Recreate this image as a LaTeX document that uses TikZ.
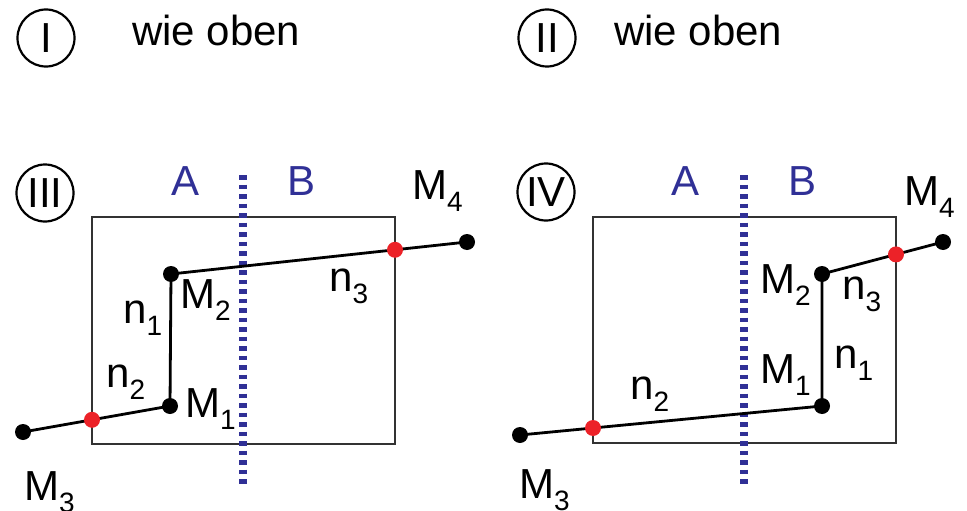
\documentclass[tikz,border=0pt]{standalone}
\usepackage{fontspec}
\setmainfont{Liberation Sans}
\definecolor{divblue}{RGB}{48,48,150}
\definecolor{dotred}{RGB}{236,34,40}
\definecolor{boxgray}{RGB}{50,50,50}
\newcommand\lblsub[2]{#1\raisebox{-12pt}{\fontsize{28pt}{28pt}\selectfont #2}}
\tikzset{
  txt/.style={inner sep=0pt, anchor=base west, font=\fontsize{42pt}{42pt}\selectfont},
  abtxt/.style={inner sep=0pt, anchor=base, text=divblue, font=\fontsize{42pt}{42pt}\selectfont},
  numcirc/.style={draw, circle, line width=2.2pt, minimum size=57pt, inner sep=0pt, font=\fontsize{42pt}{42pt}\selectfont},
  frame/.style={draw=boxgray, line width=1.4pt},
  divider/.style={draw=divblue, line width=7.5pt, dash pattern=on 4.5pt off 5pt},
  conn/.style={draw, line width=2.8pt},
  bdot/.style={circle, fill=black, minimum size=16pt, inner sep=0pt},
  rdot/.style={circle, fill=dotred, minimum size=16pt, inner sep=0pt}
}
\begin{document}
\begin{tikzpicture}[x=1pt,y=-1pt]
\useasboundingbox (0,0) rectangle (967,511);
% top row
\node[numcirc] (c1) at (46,38) {I};
\node[txt] (t1) at (132,46) {wie oben};
\node[numcirc] (c2) at (547,38) {II};
\node[txt] (t2) at (614,46) {wie oben};
% ---------- panel III ----------
\node[numcirc] (c3) at (45,193) {III};
\draw[frame] (92,217) rectangle (395,444);
\coordinate (d3a) at (243,175);
\coordinate (d3b) at (243,485);
\draw[divider] (d3a) -- (d3b);
\node[abtxt] (a3) at (186,195) {A};
\node[abtxt] (b3) at (302,195) {B};
\coordinate (m3a) at (23,432);
\coordinate (r3a) at (92,419.8);
\coordinate (m1a) at (170,406);
\coordinate (m2a) at (171,274);
\coordinate (r3b) at (395,249.8);
\coordinate (m4a) at (467,242);
\draw[conn] (m3a) -- (r3a) -- (m1a) -- (m2a) -- (r3b) -- (m4a);
\foreach \p in {m3a,m1a,m2a,m4a} \node[bdot] at (\p) {};
\foreach \p in {r3a,r3b} \node[rdot] at (\p) {};
\node[txt] (lm4a) at (412,199) {\lblsub{M}{4}};
\node[txt] (ln3a) at (329,291) {\lblsub{n}{3}};
\node[txt] (lm2a) at (180,308) {\lblsub{M}{2}};
\node[txt] (ln1a) at (123,323) {\lblsub{n}{1}};
\node[txt] (ln2a) at (106,387) {\lblsub{n}{2}};
\node[txt] (lm1a) at (185,417) {\lblsub{M}{1}};
\node[txt] (lm3a) at (24,500) {\lblsub{M}{3}};
% ---------- panel IV ----------
\node[numcirc] (c4) at (546,192) {IV};
\draw[frame] (593,217) rectangle (896,443);
\coordinate (d4a) at (744,175);
\coordinate (d4b) at (744,485);
\draw[divider] (d4a) -- (d4b);
\node[abtxt] (a4) at (686,195) {A};
\node[abtxt] (b4) at (802,195) {B};
\coordinate (m3b) at (520,435);
\coordinate (r4a) at (593,428.0);
\coordinate (m1b) at (822,406);
\coordinate (m2b) at (822,274);
\coordinate (r4b) at (896,254.4);
\coordinate (m4b) at (943,242);
\draw[conn] (m3b) -- (r4a) -- (m1b) -- (m2b) -- (r4b) -- (m4b);
\foreach \p in {m3b,m1b,m2b,m4b} \node[bdot] at (\p) {};
\foreach \p in {r4a,r4b} \node[rdot] at (\p) {};
\node[txt] (lm4b) at (904,205) {\lblsub{M}{4}};
\node[txt] (lm2b) at (760,293) {\lblsub{M}{2}};
\node[txt] (ln3b) at (842,299) {\lblsub{n}{3}};
\node[txt] (ln1b) at (834,368) {\lblsub{n}{1}};
\node[txt] (lm1b) at (760,383) {\lblsub{M}{1}};
\node[txt] (ln2b) at (630,399) {\lblsub{n}{2}};
\node[txt] (lm3b) at (519,498) {\lblsub{M}{3}};
\end{tikzpicture}
\end{document}
